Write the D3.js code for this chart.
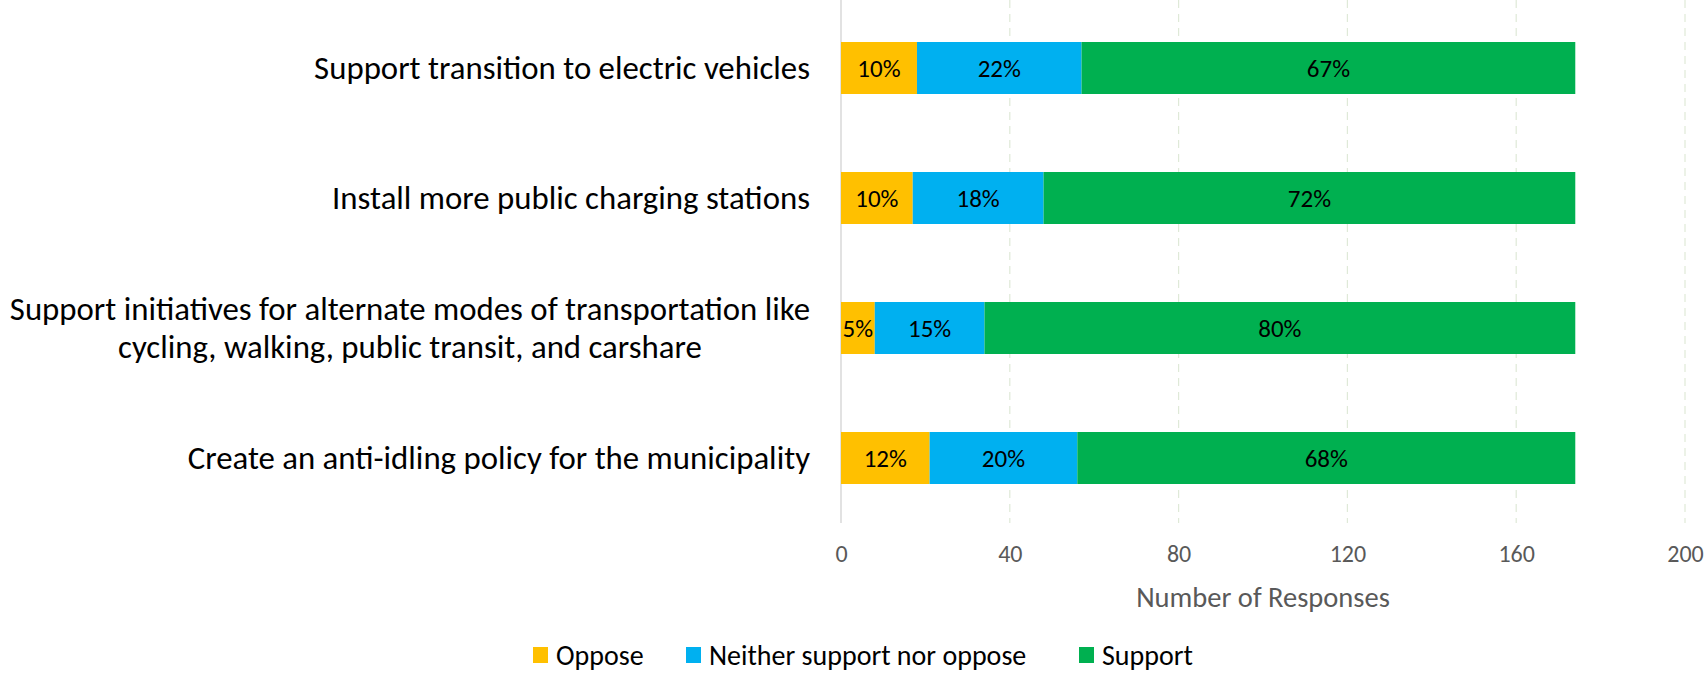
<!DOCTYPE html>
<html lang="en">
<head>
<meta charset="utf-8">
<title>Transportation survey</title>
<style>
  body { margin: 0; background: #fff; }
  svg text { font-family: Calibri, Carlito, Lato, sans-serif; }
</style>
</head>
<body>
<div id="chart"></div>
<script src="https://cdnjs.cloudflare.com/ajax/libs/d3/7.8.5/d3.min.js"></script>
<script>
// survey data (number of responses)
var categories = [
    ["Support transition to electric vehicles"],
    ["Install more public charging stations"],
    ["Support initiatives for alternate modes of transportation like", "cycling, walking, public transit, and carshare"],
    ["Create an anti-idling policy for the municipality"]
];
var oppose  = [18, 17, 8, 21];
var neither = [39, 31, 26, 35];
var support = [117, 126, 140, 118];
var seriesNames = ["Oppose", "Neither support nor oppose", "Support"];
var seriesColors = ["#FFC000", "#00B0F0", "#00B050"];
var xTicks = [0, 40, 80, 120, 160, 200];

var width = 1705, height = 675;
var plotLeft = 841, plotRight = 1685, plotTop = 3, plotBottom = 523;

var svg = d3.select("#chart").append("svg")
    .attr("width", width)
    .attr("height", height);

var x = d3.scaleLinear().domain([0, 200]).range([plotLeft, plotRight]);
var y = d3.scaleBand().domain(d3.range(categories.length))
    .range([plotTop, plotBottom]).paddingInner(0.6).paddingOuter(0.3);

// gridlines
svg.append("g").selectAll("line")
    .data(xTicks.slice(1))
    .enter().append("line")
    .attr("x1", function(d){ return x(d); })
    .attr("x2", function(d){ return x(d); })
    .attr("y1", 0)
    .attr("y2", plotBottom)
    .attr("stroke", "#dfe9d8")
    .attr("stroke-width", 1.2)
    .attr("stroke-dasharray", "8,6");

// vertical axis line
svg.append("line")
    .attr("x1", x(0)).attr("x2", x(0))
    .attr("y1", 0).attr("y2", plotBottom)
    .attr("stroke", "#d9d9d9")
    .attr("stroke-width", 1.5);

// stacked rows
var rows = categories.map(function(c, i){
    var vals = [oppose[i], neither[i], support[i]];
    var total = d3.sum(vals);
    var start = 0;
    return vals.map(function(v, k){
        var seg = {row: i, k: k, x0: start, x1: start + v, pct: Math.round(v / total * 100)};
        start += v;
        return seg;
    });
});
var segs = [].concat.apply([], rows);

svg.append("g").selectAll("rect")
    .data(segs)
    .enter().append("rect")
    .attr("x", function(d){ return x(d.x0); })
    .attr("y", function(d){ return y(d.row); })
    .attr("width", function(d){ return x(d.x1) - x(d.x0); })
    .attr("height", y.bandwidth())
    .attr("fill", function(d){ return seriesColors[d.k]; });

svg.append("g").selectAll("text")
    .data(segs)
    .enter().append("text")
    .attr("x", function(d){ return (x(d.x0) + x(d.x1)) / 2; })
    .attr("y", function(d){ return y(d.row) + y.bandwidth() / 2; })
    .attr("dy", "0.35em")
    .attr("text-anchor", "middle")
    .attr("font-size", 25)
    .attr("fill", "#000")
    .text(function(d){ return d.pct + "%"; });

// category labels (multi-line ones are centred on their longest line)
var catLabels = svg.append("g").selectAll("text")
    .data(categories)
    .enter().append("text")
    .attr("text-anchor", "end")
    .attr("font-size", 32.8)
    .attr("fill", "#000")
    .attr("transform", function(d, i){
        return "translate(810," + (y(i) + y.bandwidth() / 2) + ")";
    });
catLabels.selectAll("tspan")
    .data(function(d){ return d.map(function(t, j){ return {t: t, j: j, n: d.length}; }); })
    .enter().append("tspan")
    .attr("x", 0)
    .attr("y", function(d){ return (d.j - (d.n - 1) / 2) * 38; })
    .attr("dy", "0.35em")
    .text(function(d){ return d.t; });
catLabels.each(function(d){
    if (d.length < 2) return;
    var spans = d3.select(this).selectAll("tspan");
    var maxW = d3.max(spans.nodes(), function(n){ return n.getComputedTextLength(); });
    d3.select(this).attr("text-anchor", "middle");
    spans.attr("x", -maxW / 2);
});

// x axis
var xAxis = d3.axisBottom(x).tickValues(xTicks).tickSize(0).tickPadding(0);
var gx = svg.append("g")
    .attr("transform", "translate(0," + 545 + ")")
    .call(xAxis);
gx.select(".domain").remove();
gx.selectAll("text")
    .attr("font-size", 24)
    .attr("fill", "#595959")
    .attr("font-family", "Calibri, Carlito, Lato, sans-serif");

svg.append("text")
    .attr("x", (plotLeft + plotRight) / 2)
    .attr("y", 597)
    .attr("dy", "0.35em")
    .attr("text-anchor", "middle")
    .attr("font-size", 28.5)
    .attr("fill", "#595959")
    .text("Number of Responses");

// legend
var legendX = [533, 686, 1079];
var legend = svg.append("g").selectAll("g")
    .data(seriesNames)
    .enter().append("g")
    .attr("transform", function(d, i){ return "translate(" + legendX[i] + ",655)"; });
legend.append("rect")
    .attr("x", 0).attr("y", -8)
    .attr("width", 15).attr("height", 16)
    .attr("fill", function(d, i){ return seriesColors[i]; });
legend.append("text")
    .attr("x", 23)
    .attr("dy", "0.35em")
    .attr("font-size", 28)
    .attr("fill", "#000")
    .text(function(d){ return d; });
</script>
</body>
</html>
